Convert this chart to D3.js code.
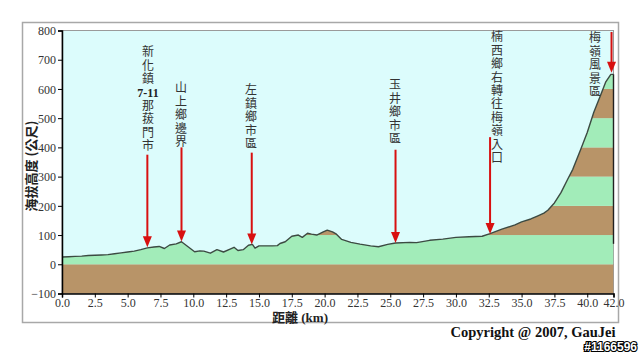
<!DOCTYPE html>
<html><head><meta charset="utf-8">
<script src="https://cdn.jsdelivr.net/npm/d3@7"></script>
<style>
html,body{margin:0;padding:0;background:#fff;}
svg{display:block;}
</style></head>
<body>
<svg id="c" width="640" height="353"></svg>
<script>
// ---- data ----
const distKm = [0.0,0.5,1.0,1.5,2.0,2.5,3.0,3.5,4.0,4.5,5.0,5.5,6.0,6.5,7.0,7.4,7.8,8.2,8.7,9.1,9.6,10.1,10.5,10.8,11.3,11.8,12.3,12.8,13.1,13.4,13.8,14.2,14.5,14.7,15.0,16.0,16.4,16.6,17.0,17.5,18.0,18.3,18.7,19.0,19.4,19.9,20.2,20.6,20.9,21.3,22.0,22.7,23.5,24.1,24.8,25.4,26.5,27.0,28.0,29.0,30.0,31.0,32.0,32.6,33.5,34.5,35.0,35.7,36.2,36.7,37.0,37.5,38.0,38.5,38.9,39.5,40.0,40.5,41.0,41.4,41.8,42.0];
const elevM  = [25,26,27,28,30,31,32,33,36,39,42,45,50,56,59,61,54,66,70,77,60,43,46,45,38,50,42,52,58,47,50,65,68,55,63,63,64,71,77,96,100,92,106,103,100,111,117,111,103,85,75,69,63,60,68,73,75,74,82,86,92,94,96,105,120,135,145,155,165,175,185,210,245,290,325,393,451,520,577,623,650,650];
const endDropM = 70;
const yTicks = [-100,0,100,200,300,400,500,600,700,800];
const xTicks = [0,2.5,5,7.5,10,12.5,15,17.5,20,22.5,25,27.5,30,32.5,35,37.5,40,42];
const bandStarts = [-100,0,100,200,300,400,500,600,700];
const labelNames = ["新化鎮|7-11|那菝門市","山上鄉邊界","左鎮鄉市區","玉井鄉市區","楠西鄉右轉往梅嶺入口","梅嶺風景區"];
const labelKm    = [6.5, 9.1, 14.45, 25.4, 32.6, 41.85];
const arrowTopM  = [375, 400, 382, 392, 435, 795];
const arrowTipM  = [58, 78, 68, 73, 104, 655];
const yTitle = "海拔高度 (公尺)";
const xTitle = "距離  (km)";
const copyright = "Copyright @ 2007, GauJei";
const watermark = "#1166596";

// ---- layout ----
const svg = d3.select("#c");
const L = 62, R = 613.5, T = 30.5, B = 293.5;
const x = d3.scaleLinear().domain([0,42]).range([L,R]);
const y = d3.scaleLinear().domain([-100,800]).range([B,T]);
const pts = distKm.map((d,i)=>[d,elevM[i]]);

// outer frame
svg.append("rect").attr("x",22.5).attr("y",22.5).attr("width",596).attr("height",300)
  .attr("fill","#fff").attr("stroke","#a8a8a8").attr("stroke-width",1.5);

// plot background
svg.append("rect").attr("x",L).attr("y",T).attr("width",R-L).attr("height",B-T)
  .attr("fill","#dcfcfc").attr("stroke","#9a9a9a").attr("stroke-width",1);

// area clip
const area = d3.area().x(d=>x(d[0])).y0(y(-100)).y1(d=>y(d[1]));
svg.append("clipPath").attr("id","ac").append("path").attr("d",area(pts));
const g = svg.append("g").attr("clip-path","url(#ac)");
g.selectAll("rect").data(bandStarts).join("rect")
  .attr("x",L).attr("width",R-L)
  .attr("y",d=>y(d+100)).attr("height",d=>y(d)-y(d+100))
  .attr("fill",(d,i)=> i%2===0 ? "#b89468" : "#a2ecb9");

// profile line
const line = d3.line().x(d=>x(d[0])).y(d=>y(d[1]));
svg.append("path").attr("d",line(pts)).attr("fill","none")
  .attr("stroke","#3c4a42").attr("stroke-width",1.4).attr("stroke-linejoin","round");
svg.append("line").attr("x1",x(42)).attr("x2",x(42)).attr("y1",y(elevM[elevM.length-1])).attr("y2",y(endDropM))
  .attr("stroke","#222").attr("stroke-width",1.4);

// axes
const tickFont = "'Liberation Serif', 'Times New Roman', serif";
const ya = svg.append("g").attr("transform",`translate(${L},0)`)
  .call(d3.axisLeft(y).tickValues(yTicks).tickSize(4).tickPadding(2).tickFormat(d3.format("d")));
const xa = svg.append("g").attr("transform",`translate(0,${B})`)
  .call(d3.axisBottom(x).tickValues(xTicks).tickSize(4).tickPadding(1).tickFormat(d3.format(".1f")));
[ya,xa].forEach(a=>{
  a.select(".domain").attr("stroke","#000").attr("stroke-width",1.5);
  a.selectAll(".tick line").attr("stroke","#000");
  a.selectAll("text").attr("font-family",tickFont).attr("font-size",12).attr("fill","#333");
});
ya.selectAll("text").attr("dy","0.35em");

// axis titles
svg.append("text").attr("transform",`translate(36,166) rotate(-90)`)
  .attr("text-anchor","middle").attr("font-family","'Noto Sans CJK TC', sans-serif")
  .attr("font-size",13).attr("font-weight","bold").attr("fill","#222").text(yTitle);
svg.append("text").attr("x",300).attr("y",321.5).attr("text-anchor","middle")
  .attr("font-family","'Liberation Serif', 'Noto Sans CJK TC', serif")
  .attr("font-size",13).attr("font-weight","bold").attr("fill","#222").text(xTitle);

// annotations (one text per character, stacked)
const labelX = [148, 181, 251, 395, 497, 595];
const labelY0 = [52, 88, 90, 85, 37, 38];
const step = 13.4;
const cjkFont = "'Liberation Serif', 'Noto Sans CJK TC', serif";
labelNames.forEach((name,i)=>{
  const ax = x(labelKm[i]);
  const parts = [];
  name.split("|").forEach(seg=>{
    if (/^[0-9\-]+$/.test(seg)) parts.push({t:seg, bold:true});
    else Array.from(seg).forEach(ch=>parts.push({t:ch, bold:false}));
  });
  parts.forEach((p,j)=>{
    svg.append("text").attr("x",labelX[i]).attr("y",labelY0[i]+j*step)
      .attr("dy","0.36em").attr("text-anchor","middle")
      .attr("font-family", p.bold ? tickFont : cjkFont)
      .attr("font-weight", p.bold ? "bold" : "normal")
      .attr("font-size", 12).attr("fill", p.bold ? "#222" : "#333").text(p.t);
  });
  const y1 = y(arrowTopM[i]), y2 = y(arrowTipM[i]);
  svg.append("line").attr("x1",ax).attr("x2",ax).attr("y1",y1).attr("y2",y2-9)
    .attr("stroke","#d81010").attr("stroke-width",2);
  svg.append("path").attr("d",`M${ax-4.5},${y2-11} L${ax+4.5},${y2-11} L${ax},${y2} Z`)
    .attr("fill","#d81010");
});

// copyright
svg.append("text").attr("x",533).attr("y",337).attr("text-anchor","middle")
  .attr("font-family",tickFont).attr("font-weight","bold").attr("font-size",14.5)
  .attr("fill","#111").text(copyright);
svg.append("text").attr("x",637).attr("y",350.5).attr("text-anchor","end")
  .attr("font-family","'Liberation Sans', sans-serif").attr("font-weight","bold").attr("font-size",12)
  .attr("fill","#fff").attr("stroke","#000").attr("stroke-width",2.2).attr("paint-order","stroke")
  .text(watermark);
</script>
</body></html>
